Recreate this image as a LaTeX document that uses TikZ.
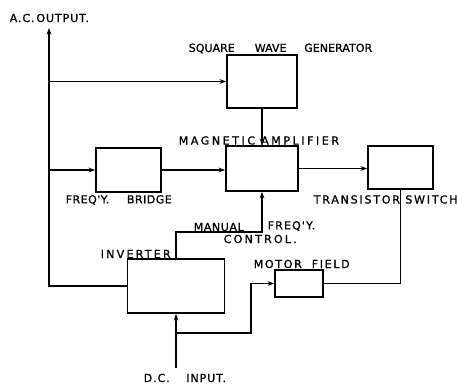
\documentclass[tikz,border=0pt]{standalone}
\usepackage{fontspec}
\setmainfont{DejaVu Sans}
\newfontfamily\lblfont[FakeBold=1]{DejaVu Sans}
\usetikzlibrary{positioning,arrows.meta}

\begin{document}
\begin{tikzpicture}[x=0.75pt,y=-0.75pt,line width=1.1pt,
  blk/.style 2 args={draw,line width=1.2pt,inner sep=0pt,minimum width=#1*0.75pt,minimum height=#2*0.75pt},
  lbl/.style={font=\lblfont\fontsize{8.3}{9}\selectfont\addfontfeature{LetterSpace=#1},inner sep=0pt,anchor=west},
  lbl/.default=20,
  >={Stealth[length=5pt,width=3.5pt]}]
  \useasboundingbox (0,0) rectangle (457,385);
  \node[blk={70}{53}] (swg) at (262,81.5) {};
  \node[blk={72}{45}] (ma) at (262,168.5) {};
  \node[blk={65}{44}] (br) at (128.5,170) {};
  \node[blk={65}{43}] (ts) at (400.5,167.5) {};
  \node[blk={97}{54}] (inv) at (176,286) {};
  \node[blk={48}{27}] (mf) at (299,283.5) {};
  \node[lbl=8] (acl) at (9,18) {A.C.\,OUTPUT.};
  \node[lbl=0] (swgl) at (188,48.5) {SQUARE\hspace{1.8em}WAVE\hspace{1.6em}GENERATOR};
  \node[lbl=23] (mal) at (178,140.5) {MAGNETIC AMPLIFIER};
  \node[lbl=4] (brl) at (65,200) {FREQ'Y.\hspace{1.6em}BRIDGE};
  \node[lbl=16] (tsl) at (313,199.5) {TRANSISTOR SWITCH};
  \node[lbl=5] (manl) at (193,227) {MANUAL};
  \node[lbl=10] (frl) at (267,226) {FREQ'Y.};
  \node[lbl=20] (ctll) at (223,239) {CONTROL.};
  \node[lbl=20] (invl) at (100,254) {INVERTER};
  \node[lbl=15] (mfl) at (253,264) {MOTOR\hspace{0.9em}FIELD};
  \node[lbl=8] (dcl) at (143,378) {D.C.\hspace{1.5em}INPUT.};
  \coordinate (acout) at (49,28);
  \coordinate (ctl) at (262,232);
  \coordinate (dcin) at (176,368);
  \coordinate (dcsplit) at (176,333);
  \coordinate (mfjog) at (251,283.5);
  \draw[->] (inv.west) -| (acout);
  \draw[->] (acout |- swg.west) -- (swg.west);
  \draw[->] (acout |- br.west) -- (br.west);
  \draw[->] (br.east) -- (br.east -| ma.west);
  \draw[->] (swg.south) -- (ma.north);
  \draw[->] (ma.east) -- (ma.east -| ts.west);
  \draw (ts.south) |- (mf.east);
  \draw[->] (inv.north) |- (ctl) -- (ma.south);
  \draw[->] (dcin) -- (inv.south);
  \draw[->] (dcsplit) -| (mfjog) -- (mf.west);
\end{tikzpicture}
\end{document}
